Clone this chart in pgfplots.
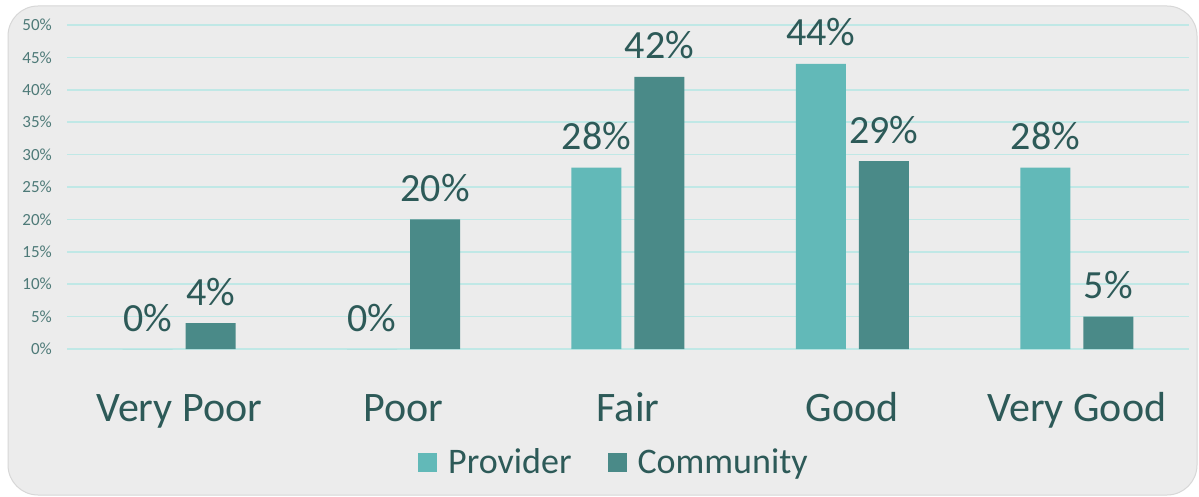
\documentclass[border=0pt]{standalone}
\usepackage{fontspec}
\setmainfont{Carlito}
\usepackage{pgfplots}
\pgfplotsset{compat=1.18}
\definecolor{prov}{RGB}{98,185,184}
\definecolor{comm}{RGB}{74,138,136}
\definecolor{txt}{RGB}{45,90,88}
\definecolor{ticktxt}{RGB}{78,122,120}
\definecolor{gridc}{RGB}{192,232,230}
\definecolor{bg}{RGB}{236,236,236}
\definecolor{bgedge}{RGB}{215,215,215}
\begin{document}
\begin{tikzpicture}
\path[use as bounding box] (0,0) rectangle (1199pt,496pt);
\fill[white] (0,0) rectangle (1199pt,496pt);
\filldraw[fill=bg, draw=bgedge, line width=1pt, rounded corners=30pt] (8pt,1pt) rectangle (1197pt,490pt);
\begin{axis}[
  at={(67pt,147pt)}, anchor=south west,
  scale only axis, width=1122pt, height=324pt,
  ybar,
  bar width=50pt,
  ymin=0, ymax=50, xmin=-0.5, xmax=4.5,
  ytick={0,5,...,50},
  xtick={0,1,2,3,4},
  xticklabels={Very Poor, Poor, Fair, Good, Very Good},
  axis line style={draw=none},
  major tick style={draw=none},
  ymajorgrids,
  grid style={color=gridc, line width=1.6pt},
  clip=false,
  /pgf/number format/assume math mode=true,
  yticklabel={\pgfmathprintnumber{\tick}\%},
  yticklabel style={anchor=east, inner sep=0pt, xshift=-15pt, font=\fontsize{17}{17}\selectfont, text=ticktxt},
  xticklabel style={anchor=base, inner sep=0pt, yshift=-68pt, font=\fontsize{42}{42}\selectfont, text=txt},
  nodes near coords={\pgfmathprintnumber{\pgfplotspointmeta}\%},
  every node near coord/.append style={anchor=base, inner sep=0pt, yshift=18pt, font=\fontsize{40}{40}\selectfont, text=txt},
  legend columns=2,
  legend style={at={(0.4866,-0.349)}, anchor=center, draw=none, fill=none,
    font=\fontsize{36}{36}\selectfont, text=txt,
    nodes={inner sep=0pt},
    /tikz/every odd column/.append style={column sep=11pt},
    /tikz/every even column/.append style={column sep=36pt}},
  legend image code/.code={\fill[#1] (0pt,-9.5pt) rectangle (19pt,9.5pt);},
]
\addplot[fill=prov, draw=none, bar shift=-31.5pt] coordinates {(0,0) (1,0) (2,28) (3,44) (4,28)};
\addplot[fill=comm, draw=none, bar shift=31.5pt] coordinates {(0,4) (1,20) (2,42) (3,29) (4,5)};
\legend{Provider, Community}
\end{axis}
\end{tikzpicture}
\end{document}
